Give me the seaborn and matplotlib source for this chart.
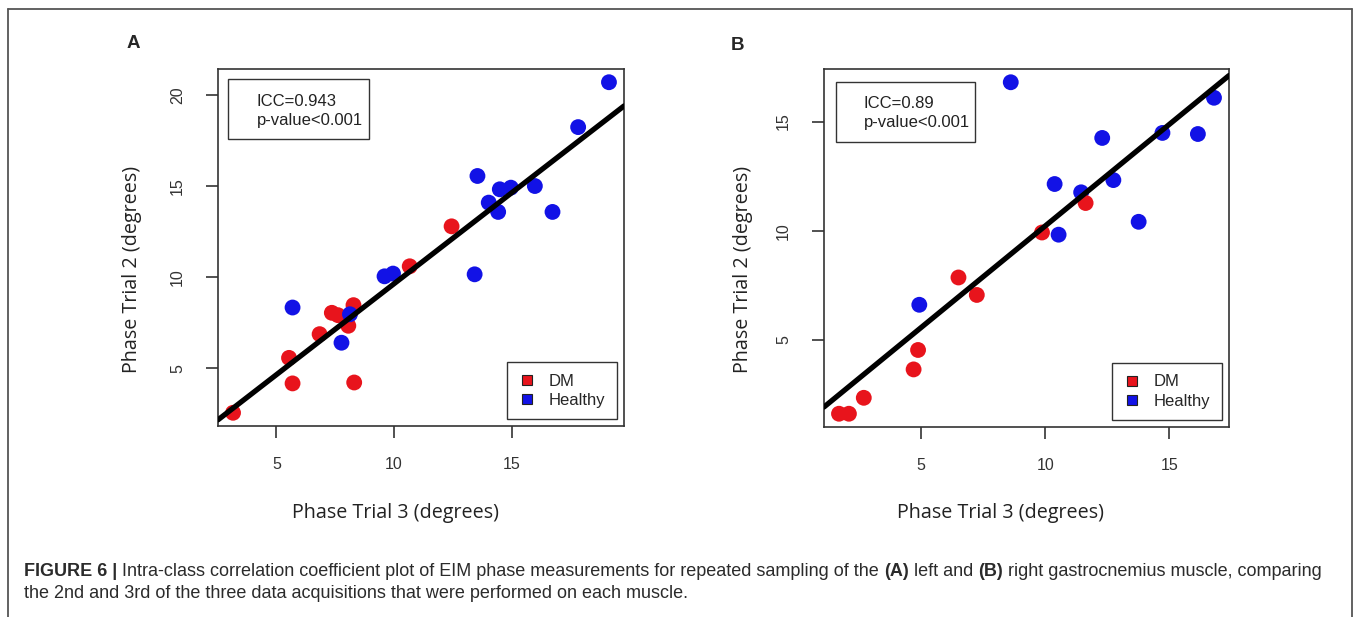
import numpy as np
import pandas as pd
import matplotlib
matplotlib.use("Agg")
import matplotlib.pyplot as plt
import seaborn as sns
from matplotlib.lines import Line2D
from matplotlib.patches import Rectangle

W, H = 1357, 617

# --- data ---
# panel A: left gastrocnemius
a_dm_x = [3.16, 5.54, 5.69, 6.84, 7.36, 7.62, 8.06, 8.28, 8.31, 10.67, 12.45]
a_dm_y = [2.57, 5.58, 4.18, 6.88, 8.05, 7.92, 7.34, 8.47, 4.23, 10.60, 12.79]
a_h_x = [5.69, 7.77, 8.13, 9.60, 9.96, 13.55, 13.43, 14.03, 14.43, 14.50, 14.97, 15.99, 16.74, 17.83, 19.14]
a_h_y = [8.34, 6.41, 7.97, 10.05, 10.20, 15.55, 10.16, 14.09, 13.58, 14.82, 14.91, 15.00, 13.58, 18.23, 20.69]
a_fit = (0.997, -0.33)  # slope, intercept
a_icc = "ICC=0.943"

# panel B: right gastrocnemius
b_dm_x = [1.68, 2.08, 2.68, 4.69, 4.87, 6.50, 7.24, 9.87, 11.63]
b_dm_y = [1.62, 1.62, 2.35, 3.65, 4.54, 7.86, 7.06, 9.92, 11.27]
b_h_x = [8.61, 4.92, 10.38, 10.54, 11.45, 12.30, 12.75, 13.77, 14.73, 16.16, 16.81]
b_h_y = [16.80, 6.61, 12.14, 9.82, 11.76, 14.25, 12.32, 10.41, 14.48, 14.43, 16.09]
b_fit = (0.929, 0.93)
b_icc = "ICC=0.89"

p_text = "p-value<0.001"
groups = ["DM", "Healthy"]
colors = {"DM": "#e8141c", "Healthy": "#1212e6"}
x_ticks = [5, 10, 15]
a_y_ticks = [5, 10, 15, 20]
b_y_ticks = [5, 10, 15]

sns.set_style("ticks")
plt.rcParams["font.family"] = ["Liberation Sans", "DejaVu Sans"]

fig = plt.figure(figsize=(W / 100, H / 100), dpi=100)


def make_axes(l, r, t, b):
    return fig.add_axes([l / W, 1 - b / H, (r - l) / W, (b - t) / H])


def r_range(v):
    lo, hi = min(v), max(v)
    pad = 0.04 * (hi - lo)
    return lo - pad, hi + pad


def frame(x0, y0, x1, y1, lw=1.0, ec="#333333"):
    fig.add_artist(Rectangle((x0 / W, 1 - y1 / H), (x1 - x0) / W, (y1 - y0) / H,
                             transform=fig.transFigure, fill=False, ec=ec, lw=lw))


def panel(ax, dm_x, dm_y, h_x, h_y, fit, yt, dm_first=True):
    dm = pd.DataFrame({"x": dm_x, "y": dm_y, "group": "DM"})
    hl = pd.DataFrame({"x": h_x, "y": h_y, "group": "Healthy"})
    df = pd.concat([dm, hl] if dm_first else [hl, dm], ignore_index=True)
    sns.scatterplot(data=df, x="x", y="y", hue="group", palette=colors, s=130,
                    linewidth=0, legend=False, ax=ax, zorder=2)
    ax.axline((0, fit[1]), slope=fit[0], color="black", lw=3.8, zorder=3)
    ax.set_xlim(r_range(df["x"]))
    ax.set_ylim(r_range(df["y"]))
    ax.set_xticks(x_ticks)
    ax.set_yticks(yt)
    ax.set_xlabel("")
    ax.set_ylabel("")
    for s in ax.spines.values():
        s.set_visible(True)
        s.set_color("#333333")
        s.set_linewidth(1.2)
    ax.tick_params(axis="both", length=8.6, width=1.2, color="#333333",
                   labelsize=11.5, labelcolor="#333333")
    ax.tick_params(axis="x", pad=14)
    ax.tick_params(axis="y", pad=15)
    for lab in ax.get_yticklabels():
        lab.set_rotation(90)
        lab.set_va("center")
    handles = [Line2D([], [], marker="s", ls="", markersize=6.8,
                      markerfacecolor=colors[g], markeredgecolor="#222222",
                      markeredgewidth=0.8, label=g) for g in groups]
    leg = ax.legend(handles=handles, loc="lower right", frameon=True, fancybox=False,
                    edgecolor="#333333", framealpha=1, borderaxespad=0.4, borderpad=0.7,
                    labelspacing=0.25, handlelength=1.0, handletextpad=0.8,
                    prop={"family": "Liberation Sans", "size": 12})
    leg.get_frame().set_linewidth(1.0)


axA = make_axes(218, 624, 69, 426)
axB = make_axes(824, 1229, 69, 427)
panel(axA, a_dm_x, a_dm_y, a_h_x, a_h_y, a_fit, a_y_ticks, dm_first=True)
panel(axB, b_dm_x, b_dm_y, b_h_x, b_h_y, b_fit, b_y_ticks, dm_first=False)


def ftext(x, y, s, **kw):
    return fig.text(x / W, 1 - y / H, s, **kw)


# ICC boxes
frame(228, 79, 369, 139)
ftext(257, 102, a_icc, fontsize=12, va="center", color="#222222")
ftext(257, 121, p_text, fontsize=12, va="center", color="#222222")
frame(836, 82, 975, 142)
ftext(864, 103, b_icc, fontsize=12, va="center", color="#222222")
ftext(864, 123, p_text, fontsize=12, va="center", color="#222222")

# axis titles
lab_font = ["Open Sans", "DejaVu Sans"]
for cx in (396, 1001):
    ftext(cx, 513, "Phase Trial 3 (degrees)", family=lab_font, fontsize=14.2,
          ha="center", va="center", color="#222222")
for cx in (132, 743):
    ftext(cx, 269, "Phase Trial 2 (degrees)", family=lab_font, fontsize=14.2,
          ha="center", va="center", rotation=90, color="#222222")

# panel letters
ftext(133, 44, "A", fontsize=13.5, fontweight="bold", ha="center", va="center")
ftext(738, 45, "B", fontsize=13.5, fontweight="bold", ha="center", va="center")

# outer border
for xs, ys in (([8, 8], [9, H + 5]), ([8, 1352], [9, 9]), ([1352, 1352], [9, H + 5])):
    fig.add_artist(Line2D([x / W for x in xs], [1 - y / H for y in ys],
                          transform=fig.transFigure, color="#555555", lw=1.3))

# caption with bold runs
cap_size = 13
space = 0.278 * cap_size * 100 / 72
renderer = fig.canvas.get_renderer()


def rich_line(x, y, parts):
    for s, w in parts:
        t = ftext(x, y, s.strip(), fontsize=cap_size, fontweight=w, va="center",
                  color="#2b2b2b")
        bb = t.get_window_extent(renderer=renderer)
        x = bb.x1 + space


rich_line(24, 571, [("FIGURE 6 |", "bold"),
                    ("Intra-class correlation coefficient plot of EIM phase measurements for repeated sampling of the", "normal"),
                    ("(A)", "bold"), ("left and", "normal"), ("(B)", "bold"),
                    ("right gastrocnemius muscle, comparing", "normal")])
rich_line(24, 593, [("the 2nd and 3rd of the three data acquisitions that were performed on each muscle.", "normal")])

fig.savefig("out.png", dpi=100)
